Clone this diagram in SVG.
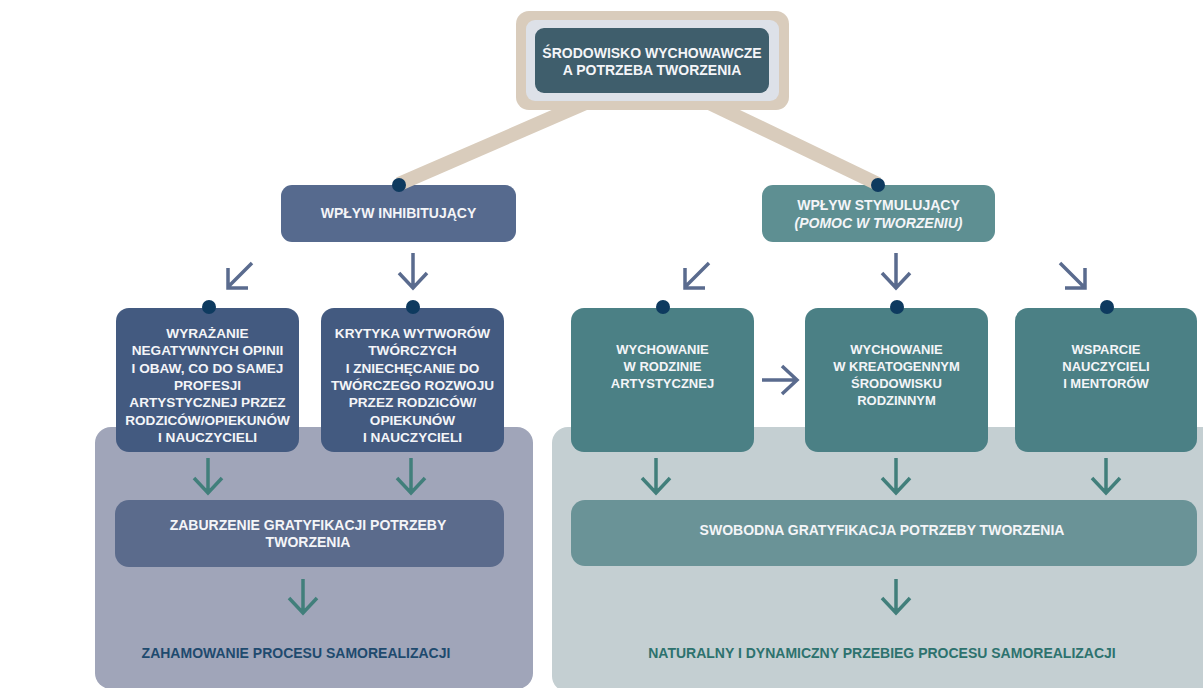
<svg xmlns="http://www.w3.org/2000/svg" width="1203" height="688" viewBox="0 0 1203 688">
<style>
text{font-family:"Liberation Sans",Arial,sans-serif;font-weight:bold;text-anchor:middle;fill:#f4f5f8}
.t14{font-size:14px}
.t13{font-size:13px}
.t135{font-size:13.6px}
.arrB{fill:none;stroke:#5a6b8e;stroke-width:3.5;stroke-linecap:butt;stroke-linejoin:miter}
.arrT{fill:none;stroke:#417f7b;stroke-width:3.5;stroke-linecap:butt;stroke-linejoin:miter}
.beige{stroke:#d9ccbc;stroke-width:14;fill:none}
.dot{fill:#0e3a5f}
.lb1{fill:#566a8e}
.lb2{fill:#435a80}
.rg1{fill:#5e8f92}
.rg2{fill:#4b8085}
</style>
<rect width="1203" height="688" fill="#ffffff"/>
<g id="panel-left"><rect x="95" y="427" width="438" height="262" rx="16" fill="#a0a5b9"/></g>
<g id="panel-right"><rect x="552" y="427" width="670" height="265" rx="16" fill="#c4cfd2"/></g>

<g id="node-inhib">
<rect class="lb1" x="281" y="185" width="235" height="57" rx="11"/>
<text class="t14" x="398.5" y="218">WPŁYW INHIBITUJĄCY</text>
</g>
<g id="node-stym">
<rect class="rg1" x="762" y="185" width="233" height="57" rx="11"/>
<text class="t14" x="878.5" y="210">WPŁYW STYMULUJĄCY</text>
<text class="t14" x="878.5" y="228" font-style="italic">(POMOC W TWORZENIU)</text>
</g>

<g id="node-opinie">
<rect class="lb2" x="116" y="308" width="183" height="144" rx="13"/>
<text class="t135" x="207.5" y="338">WYRAŻANIE</text>
<text class="t135" x="207.5" y="355.3">NEGATYWNYCH OPINII</text>
<text class="t135" x="207.5" y="372.7">I OBAW, CO DO SAMEJ</text>
<text class="t135" x="207.5" y="390">PROFESJI</text>
<text class="t135" x="207.5" y="407.3">ARTYSTYCZNEJ PRZEZ</text>
<text class="t135" x="207.5" y="424.7">RODZICÓW/OPIEKUNÓW</text>
<text class="t135" x="207.5" y="442">I NAUCZYCIELI</text>
</g>
<g id="node-krytyka">
<rect class="lb2" x="321" y="308" width="183" height="144" rx="13"/>
<text class="t135" x="412.5" y="338">KRYTYKA WYTWORÓW</text>
<text class="t135" x="412.5" y="355.3">TWÓRCZYCH</text>
<text class="t135" x="412.5" y="372.7">I ZNIECHĘCANIE DO</text>
<text class="t135" x="412.5" y="390">TWÓRCZEGO ROZWOJU</text>
<text class="t135" x="412.5" y="407.3">PRZEZ RODZICÓW/</text>
<text class="t135" x="412.5" y="424.7">OPIEKUNÓW</text>
<text class="t135" x="412.5" y="442">I NAUCZYCIELI</text>
</g>

<g id="node-rodzina-art">
<rect class="rg2" x="571" y="308" width="183" height="144" rx="13"/>
<text class="t13" x="662.5" y="354">WYCHOWANIE</text>
<text class="t13" x="662.5" y="371">W RODZINIE</text>
<text class="t13" x="662.5" y="388">ARTYSTYCZNEJ</text>
</g>
<g id="node-kreatogenne">
<rect class="rg2" x="805" y="308" width="183" height="144" rx="13"/>
<text class="t13" x="896.5" y="354">WYCHOWANIE</text>
<text class="t13" x="896.5" y="371">W KREATOGENNYM</text>
<text class="t13" x="896.5" y="388">ŚRODOWISKU</text>
<text class="t13" x="896.5" y="405">RODZINNYM</text>
</g>
<g id="node-wsparcie">
<rect class="rg2" x="1015" y="308" width="182" height="144" rx="13"/>
<text class="t13" x="1106" y="354">WSPARCIE</text>
<text class="t13" x="1106" y="371">NAUCZYCIELI</text>
<text class="t13" x="1106" y="388">I MENTORÓW</text>
</g>

<g id="node-zaburzenie">
<rect x="115" y="500" width="389" height="67" rx="14" fill="#5b6b8c"/>
<text class="t14" x="308" y="530">ZABURZENIE GRATYFIKACJI POTRZEBY</text>
<text class="t14" x="308" y="547">TWORZENIA</text>
</g>
<g id="node-swobodna">
<rect x="571" y="500" width="626" height="66" rx="14" fill="#6a9397"/>
<text class="t14" x="882" y="535">SWOBODNA GRATYFIKACJA POTRZEBY TWORZENIA</text>
</g>
<g id="node-zahamowanie">
<text class="t14" x="296" y="658" style="fill:#1e4a6e">ZAHAMOWANIE PROCESU SAMOREALIZACJI</text>
</g>
<g id="node-naturalny">
<text class="t14" x="882" y="658" style="fill:#2d726e">NATURALNY I DYNAMICZNY PRZEBIEG PROCESU SAMOREALIZACJI</text>
</g>

<g id="connectors">
<line class="beige" x1="590" y1="101" x2="399" y2="184"/>
<line class="beige" x1="705" y1="101" x2="878" y2="184"/>
<path class="arrB" d="M252,263 L228,287 M228,268 L228,288 L248,288"/>
<path class="arrB" d="M413,253 L413,288 M399,273 L413,288 L427,273"/>
<path class="arrB" d="M709,263 L685,287 M685,268 L685,288 L705,288"/>
<path class="arrB" d="M896,253 L896,288 M882,273 L896,288 L910,273"/>
<path class="arrB" d="M1060,263 L1084,287 M1085,268 L1085,288 L1065,288"/>
<path class="arrB" d="M762,380 L797,380 M782,366 L797,380 L782,394"/>
<path class="arrT" d="M208,458 L208,493 M194,478 L208,493 L222,478"/>
<path class="arrT" d="M411,458 L411,493 M397,478 L411,493 L425,478"/>
<path class="arrT" d="M303,579 L303,613 M289,598 L303,613 L317,598"/>
<path class="arrT" d="M656,458 L656,493 M642,478 L656,493 L670,478"/>
<path class="arrT" d="M896,458 L896,493 M882,478 L896,493 L910,478"/>
<path class="arrT" d="M1106,458 L1106,493 M1092,478 L1106,493 L1120,478"/>
<path class="arrT" d="M896,579 L896,613 M882,598 L896,613 L910,598"/>
<circle class="dot" cx="399" cy="185" r="7"/>
<circle class="dot" cx="878" cy="185" r="7"/>
<circle class="dot" cx="209" cy="307" r="7"/>
<circle class="dot" cx="413" cy="307" r="7"/>
<circle class="dot" cx="663" cy="307" r="7"/>
<circle class="dot" cx="897" cy="307" r="7"/>
<circle class="dot" cx="1107" cy="307" r="7"/>
</g>

<g id="node-root">
<rect x="516" y="11" width="273" height="99" rx="13" fill="#d9ccbc"/>
<rect x="526" y="20" width="253" height="81" rx="9" fill="#dde1e8"/>
<rect x="535" y="28" width="234" height="65" rx="9" fill="#3f5e6c"/>
<text class="t14" x="652" y="58">ŚRODOWISKO WYCHOWAWCZE</text>
<text class="t14" x="652" y="75">A POTRZEBA TWORZENIA</text>
</g>
</svg>
